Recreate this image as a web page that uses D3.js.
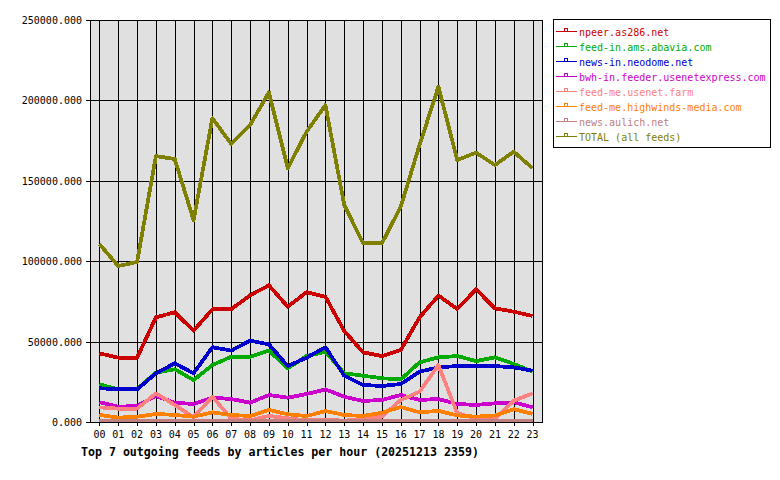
<!DOCTYPE html>
<html>
<head>
<meta charset="utf-8">
<script src="https://cdn.jsdelivr.net/npm/d3@7"></script>
<style>
  body { margin: 0; background: #fff; }
  text { font-family: "DejaVu Sans Mono", "Liberation Mono", monospace; }
</style>
</head>
<body>
<div id="chart"></div>
<script>
// hours on the x axis
var hours = ["00","01","02","03","04","05","06","07","08","09","10","11",
             "12","13","14","15","16","17","18","19","20","21","22","23"];

var feedNames = ["npeer.as286.net", "feed-in.ams.abavia.com", "news-in.neodome.net",
                 "bwh-in.feeder.usenetexpress.com", "feed-me.usenet.farm",
                 "feed-me.highwinds-media.com", "news.aulich.net", "TOTAL (all feeds)"];
var feedColors = ["#cc0000", "#00aa00", "#0000cc", "#cc00cc", "#ff8080", "#ff8000", "#c08080", "#808000"];

// articles per hour
var npeer    = [42700, 40000, 40000, 65100, 68200, 56800, 70100, 70100, 78800, 85000, 71700, 80700,
                77900, 56600, 43300, 41000, 44800, 65100, 78600, 70300, 82500, 70700, 68600, 65900];
var abavia   = [23400, 20300, 20500, 30700, 32800, 26100, 35400, 40600, 40600, 44400, 33400, 41000,
                43700, 30300, 28800, 27200, 26500, 37100, 40200, 41000, 37900, 40200, 36100, 31300];
var neodome  = [21000, 20300, 20300, 30300, 36500, 30300, 46500, 44400, 50600, 48300, 34800, 40000,
                46500, 28800, 23000, 22400, 23600, 31300, 34000, 34800, 34800, 34800, 34000, 31900];
var bwh      = [12300, 9500, 10000, 16200, 12000, 11200, 15100, 14300, 12000, 16800, 15100, 17400,
                20300, 15700, 13100, 13700, 16800, 13700, 14300, 11200, 10600, 11600, 12300, 9100];
var usenetFarm = [9100, 8300, 8300, 17800, 10600, 3000, 15700, 2000, 1000, 3800, 2300, 1000,
                1500, 800, 2000, 3300, 13700, 18800, 35400, 5400, 2200, 2200, 13200, 17800];
var highwinds = [4400, 2700, 3300, 5000, 4400, 3300, 6000, 4400, 3700, 7500, 4800, 3700,
                6800, 4400, 3700, 5800, 9300, 6000, 6900, 4100, 3300, 4100, 8000, 5000];
var aulich   = [900, 900, 900, 900, 900, 900, 900, 900, 900, 900, 900, 900,
                900, 900, 900, 900, 900, 900, 900, 900, 900, 900, 900, 900];
var total    = [110700, 97000, 99500, 165400, 163500, 125600, 188900, 172900, 184700, 205000, 157800, 180500,
                197000, 135000, 111100, 111100, 133900, 172300, 208500, 162900, 167500, 159800, 168100, 157800];

var yTicks = [0, 50000, 100000, 150000, 200000, 250000];
var title = "Top 7 outgoing feeds by articles per hour (20251213 2359)";

var allSeries = [npeer, abavia, neodome, bwh, usenetFarm, highwinds, aulich, total];

var W = 780, H = 480;
var plotLeft = 90, plotRight = 542, plotTop = 20, plotBottom = 422;

var svg = d3.select("#chart").append("svg")
    .attr("width", W).attr("height", H);

var x = d3.scaleLinear().domain([-0.5, hours.length - 0.5]).range([plotLeft, plotRight]);
var y = d3.scaleLinear().domain([0, 250000]).range([plotBottom, plotTop]);

// plot background
svg.append("rect")
    .attr("x", plotLeft).attr("y", plotTop)
    .attr("width", plotRight - plotLeft).attr("height", plotBottom - plotTop)
    .attr("fill", "#e0e0e0");

// grid lines
svg.append("g").selectAll("line").data(yTicks).enter().append("line")
    .attr("x1", plotLeft - 4).attr("x2", plotRight)
    .attr("y1", function(d) { return Math.round(y(d)) + 0.5; })
    .attr("y2", function(d) { return Math.round(y(d)) + 0.5; })
    .attr("stroke", "#000").attr("stroke-width", 1);

svg.append("g").selectAll("line").data(hours).enter().append("line")
    .attr("x1", function(d, i) { return Math.round(x(i)) + 0.5; })
    .attr("x2", function(d, i) { return Math.round(x(i)) + 0.5; })
    .attr("y1", plotTop).attr("y2", plotBottom + 4)
    .attr("stroke", "#000").attr("stroke-width", 1);

// y labels
svg.append("g").selectAll("text").data(yTicks).enter().append("text")
    .attr("x", 82)
    .attr("y", function(d) { return y(d) + 4; })
    .attr("text-anchor", "end")
    .attr("font-size", "10px")
    .text(function(d) { return d3.format(".3f")(d); });

// x labels
svg.append("g").selectAll("text").data(hours).enter().append("text")
    .attr("x", function(d, i) { return x(i); })
    .attr("y", 438)
    .attr("text-anchor", "middle")
    .attr("font-size", "10px")
    .text(function(d) { return d; });

// series lines
var line = d3.line()
    .x(function(d, i) { return x(i); })
    .y(function(d) { return y(d); });

svg.append("g").selectAll("path").data(allSeries).enter().append("path")
    .attr("d", line)
    .attr("fill", "none")
    .attr("stroke", function(d, i) { return feedColors[i]; })
    .attr("stroke-width", 3.8)
    .attr("stroke-linejoin", "round")
    .attr("shape-rendering", "crispEdges");

// plot border
svg.append("rect")
    .attr("x", plotLeft + 0.5).attr("y", plotTop + 0.5)
    .attr("width", plotRight - plotLeft).attr("height", plotBottom - plotTop)
    .attr("fill", "none").attr("stroke", "#000").attr("stroke-width", 1);

// title
svg.append("text")
    .attr("x", 81).attr("y", 456)
    .attr("font-size", "11.6px")
    .attr("font-weight", "bold")
    .text(title);

// legend
var legend = svg.append("g");
legend.append("rect")
    .attr("x", 553.5).attr("y", 19.5)
    .attr("width", 217).attr("height", 128)
    .attr("fill", "#fff").attr("stroke", "#000").attr("stroke-width", 1);

var rows = legend.selectAll("g.row").data(feedNames).enter().append("g")
    .attr("class", "row")
    .attr("transform", function(d, i) { return "translate(0," + (31 + i * 15) + ")"; });

rows.append("line")
    .attr("x1", 556).attr("x2", 577).attr("y1", 0.5).attr("y2", 0.5)
    .attr("shape-rendering", "crispEdges")
    .attr("stroke", function(d, i) { return feedColors[i]; });
rows.append("rect")
    .attr("x", 564.5).attr("y", -2.5).attr("width", 3).attr("height", 3)
    .attr("fill", "#fff")
    .attr("shape-rendering", "crispEdges")
    .attr("stroke", function(d, i) { return feedColors[i]; });
rows.append("text")
    .attr("x", 579).attr("y", 5)
    .attr("font-size", "10px")
    .attr("fill", function(d, i) { return feedColors[i]; })
    .text(function(d) { return d; });
</script>
</body>
</html>
